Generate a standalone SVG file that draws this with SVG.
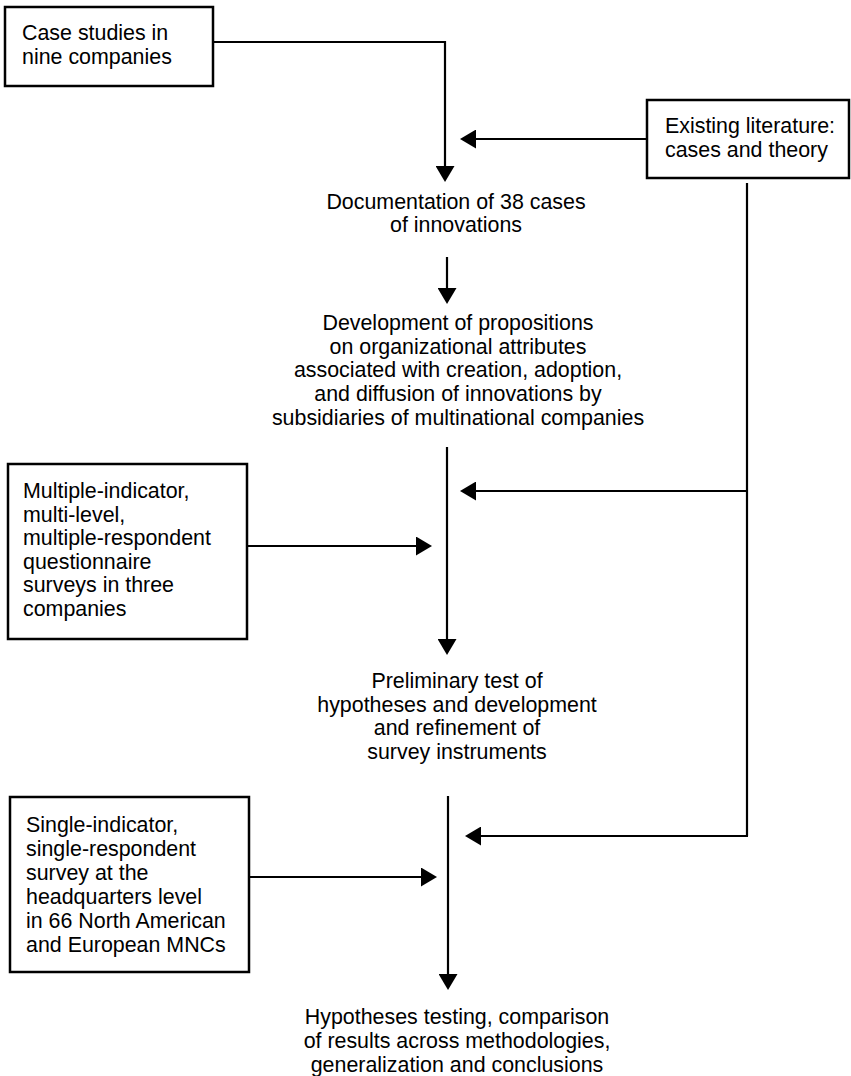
<svg xmlns="http://www.w3.org/2000/svg" width="851" height="1076" viewBox="0 0 851 1076">
<style>
  .box { fill: #fff; stroke: #000; stroke-width: 2.5; }
  .t { font-family: "Liberation Sans", Arial, sans-serif; font-size: 21.4px; fill: #000; }
  .c { text-anchor: middle; }
  .conn { fill: none; stroke: #000; stroke-width: 2.2; marker-end: url(#ah); }
  .plain { fill: none; stroke: #000; stroke-width: 2.2; }
</style>
<defs>
  <marker id="ah" markerUnits="userSpaceOnUse" markerWidth="16" markerHeight="19" viewBox="0 0 16 19" refX="0" refY="9.5" orient="auto">
    <path d="M0,0 L16,9.5 L0,19 z" fill="#000"/>
  </marker>
</defs>
<rect width="851" height="1076" fill="#fff"/>

<g id="case-studies">
  <rect class="box" x="5" y="7" width="208" height="79"/>
  <text class="t" x="22" y="40">Case studies in</text>
  <text class="t" x="22" y="64">nine companies</text>
</g>

<g id="existing-literature">
  <rect class="box" x="647" y="100" width="202" height="78"/>
  <text class="t" x="665" y="133">Existing literature:</text>
  <text class="t" x="665" y="157">cases and theory</text>
</g>

<g id="documentation">
  <text class="t c" x="456" y="209">Documentation of 38 cases</text>
  <text class="t c" x="456" y="232">of innovations</text>
</g>

<g id="development">
  <text class="t c" x="458" y="330">Development of propositions</text>
  <text class="t c" x="458" y="354">on organizational attributes</text>
  <text class="t c" x="458" y="377">associated with creation, adoption,</text>
  <text class="t c" x="458" y="401">and diffusion of innovations by</text>
  <text class="t c" x="458" y="425">subsidiaries of multinational companies</text>
</g>

<g id="multiple-indicator">
  <rect class="box" x="8" y="464" width="239" height="175"/>
  <text class="t" x="23" y="498">Multiple-indicator,</text>
  <text class="t" x="23" y="521.5">multi-level,</text>
  <text class="t" x="23" y="545">multiple-respondent</text>
  <text class="t" x="23" y="568.5">questionnaire</text>
  <text class="t" x="23" y="592">surveys in three</text>
  <text class="t" x="23" y="615.5">companies</text>
</g>

<g id="preliminary">
  <text class="t c" x="457" y="688">Preliminary test of</text>
  <text class="t c" x="457" y="711.5">hypotheses and development</text>
  <text class="t c" x="457" y="735">and refinement of</text>
  <text class="t c" x="457" y="758.5">survey instruments</text>
</g>

<g id="single-indicator">
  <rect class="box" x="10" y="797" width="239" height="175"/>
  <text class="t" x="26" y="832">Single-indicator,</text>
  <text class="t" x="26" y="856">single-respondent</text>
  <text class="t" x="26" y="880">survey at the</text>
  <text class="t" x="26" y="904">headquarters level</text>
  <text class="t" x="26" y="928">in 66 North American</text>
  <text class="t" x="26" y="952">and European MNCs</text>
</g>

<g id="hypotheses-testing">
  <text class="t c" x="457" y="1024">Hypotheses testing, comparison</text>
  <text class="t c" x="457" y="1048">of results across methodologies,</text>
  <text class="t c" x="457" y="1072">generalization and conclusions</text>
</g>

<g id="connectors">
  <path class="conn" d="M213,42 H445 V166"/>
  <path class="conn" d="M647,139 H476"/>
  <path class="conn" d="M447,257 V288"/>
  <path class="conn" d="M447,447 V639"/>
  <path class="plain" d="M747,183 V836"/>
  <path class="conn" d="M747,491 H476"/>
  <path class="conn" d="M748,836 H481"/>
  <path class="conn" d="M247,546 H416"/>
  <path class="conn" d="M448,796 V974"/>
  <path class="conn" d="M249,877 H421"/>
</g>
</svg>
